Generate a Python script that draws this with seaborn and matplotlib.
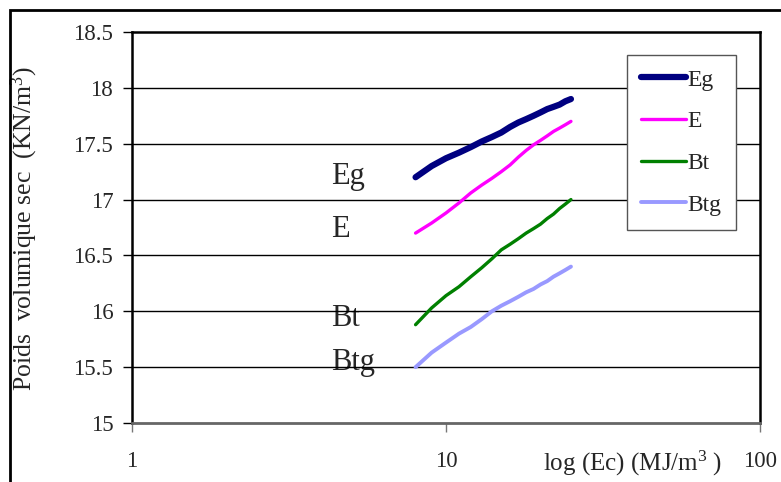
import matplotlib
matplotlib.use("Agg")
import matplotlib.pyplot as plt
import matplotlib.patches as mpatches
from matplotlib.lines import Line2D
import seaborn as sns
import pandas as pd

# Energie de compactage (MJ/m3) and dry unit weight (KN/m3) per soil
energy = [8, 9, 10, 11, 12, 13, 14, 15, 16, 17, 18, 19, 20, 21, 22, 23, 24, 25]
eg = [17.20, 17.30, 17.37, 17.42, 17.47, 17.52, 17.56, 17.60, 17.65, 17.69,
      17.72, 17.75, 17.78, 17.81, 17.83, 17.85, 17.88, 17.90]
e = [16.70, 16.79, 16.88, 16.97, 17.06, 17.13, 17.19, 17.25, 17.31, 17.38,
     17.44, 17.49, 17.53, 17.57, 17.61, 17.64, 17.67, 17.70]
bt = [15.88, 16.03, 16.14, 16.22, 16.31, 16.39, 16.47, 16.55, 16.60, 16.65,
      16.70, 16.74, 16.78, 16.83, 16.87, 16.92, 16.96, 17.00]
btg = [15.50, 15.63, 15.72, 15.80, 15.86, 15.93, 16.00, 16.05, 16.09, 16.13,
       16.17, 16.20, 16.24, 16.27, 16.31, 16.34, 16.37, 16.40]

series_names = ["Eg", "E", "Bt", "Btg"]
series_values = [eg, e, bt, btg]
colors = ["#000080", "#FF00FF", "#008000", "#9999FF"]
widths = [4.5, 2.4, 2.4, 2.8]

# label positions written beside the curves (text baselines)
tag_x = 4.3
tag_y = [17.14, 16.665, 15.87, 15.47]

y_ticks = [15, 15.5, 16, 16.5, 17, 17.5, 18, 18.5]
y_ticklabels = ["15", "15.5", "16", "16.5", "17", "17.5", "18", "18.5"]
x_ticks = [1, 10, 100]
x_ticklabels = ["1", "10", "100"]

sns.set_theme(style="white")
plt.rcParams["font.family"] = ["Liberation Serif", "DejaVu Serif"]
plt.rcParams["mathtext.fontset"] = "custom"
plt.rcParams["mathtext.rm"] = "Liberation Serif"
plt.rcParams["mathtext.it"] = "Liberation Serif:italic"

df = pd.DataFrame({
    "Ec": energy * len(series_names),
    "gd": [v for vals in series_values for v in vals],
    "sol": [n for n in series_names for _ in energy],
})

fig = plt.figure(figsize=(7.81, 4.82), dpi=100)
fig.patch.set_facecolor("white")

# outer chart frame
fig.patches.append(mpatches.Rectangle((10 / 781, -0.2), 1.2, 1 - 9.5 / 482 + 0.2,
                                      transform=fig.transFigure, fill=False,
                                      edgecolor="black", linewidth=2.0))

ax = fig.add_axes([132 / 781, 1 - 423 / 482, (760 - 132) / 781, (423 - 32) / 482])
ax.set_facecolor("white")

for name, col, lw in zip(series_names, colors, widths):
    sns.lineplot(data=df[df["sol"] == name], x="Ec", y="gd", color=col,
                 linewidth=lw, ax=ax, solid_capstyle="round", zorder=3)

ax.set_xscale("log")
ax.set_xlim(1, 100)
ax.set_ylim(15, 18.5)
ax.set_yticks(y_ticks)
ax.set_yticklabels(y_ticklabels)
ax.set_xticks(x_ticks)
ax.set_xticklabels(x_ticklabels)
ax.xaxis.set_minor_locator(matplotlib.ticker.NullLocator())

for yv in y_ticks[1:-1]:
    ax.axhline(yv, color="black", linewidth=1.0, zorder=2)

for name, yv in zip(series_names, tag_y):
    t = ax.text(tag_x, yv, name, fontsize=22, ha="left", va="baseline", zorder=1)
    if name == "Btg":
        # the lowest tag is cut just under its baseline
        clip = mpatches.Rectangle((1, 15.445), 99, 1.0, transform=ax.transData,
                                  visible=False)
        ax.add_patch(clip)
        t.set_clip_path(clip)

ax.tick_params(axis="y", which="major", direction="out", length=6.5, width=1.0,
               color="black", pad=7, labelsize=16.5, left=True)
ax.tick_params(axis="x", which="major", direction="out", length=6.5, width=1.0,
               color="#777777", pad=14, labelsize=16.5, bottom=True)

for side in ["left", "top", "right"]:
    ax.spines[side].set_color("black")
    ax.spines[side].set_linewidth(1.8)
ax.spines["bottom"].set_color("#666666")
ax.spines["bottom"].set_linewidth(2.0)

ax.set_ylabel("Poids  volumique sec  (KN/m$^{3}$)", fontsize=18.5)
ax.yaxis.set_label_coords(-0.147, 0.497)
ax.set_xlabel("log (Ec) (MJ/m$^{3}$ )", fontsize=18, va="center")
ax.xaxis.set_label_coords(0.797, -0.103)

handles = [Line2D([0], [0], color=c, linewidth=lw, solid_capstyle="round")
           for c, lw in zip(colors, widths)]
leg = ax.legend(handles, series_names, loc="upper left",
                bbox_to_anchor=(0.788, 0.941), borderaxespad=0,
                fontsize=17, frameon=True, fancybox=False, framealpha=1,
                handlelength=1.9, handletextpad=0.08, labelspacing=0.85,
                borderpad=0.6)
leg.get_frame().set_edgecolor("#555555")
leg.get_frame().set_linewidth(1.0)
leg.set_zorder(5)

fig.savefig("out.png", dpi=100)
